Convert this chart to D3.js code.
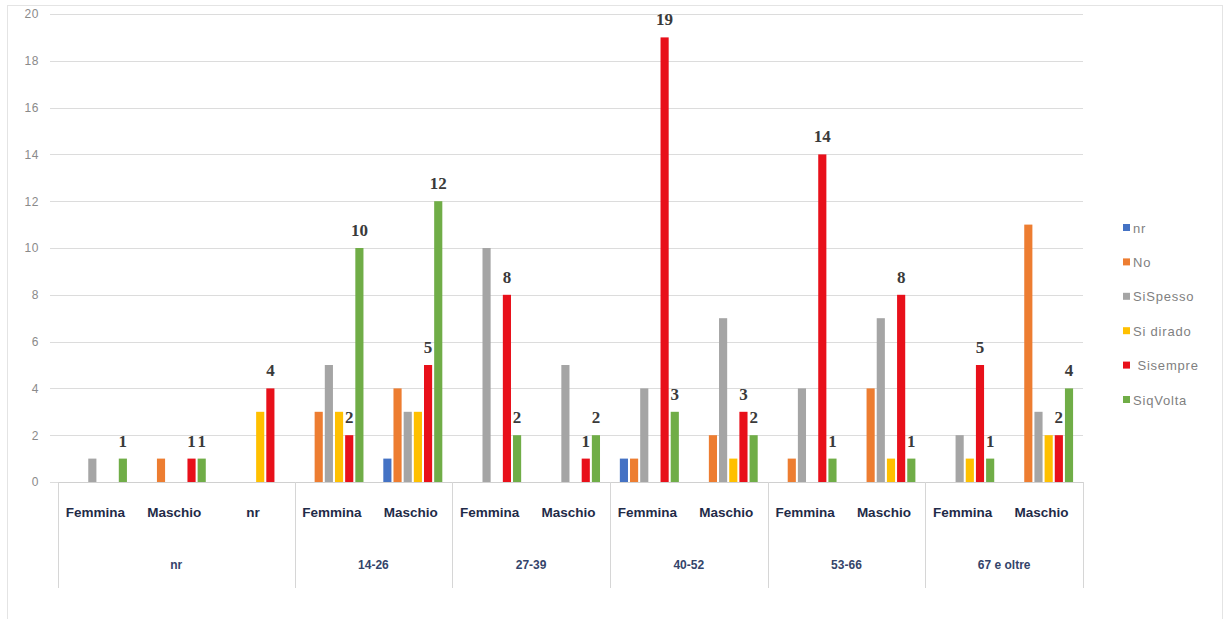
<!DOCTYPE html>
<html>
<head>
<meta charset="utf-8">
<script src="https://cdn.jsdelivr.net/npm/d3@7"></script>
<style>
  html, body { margin: 0; padding: 0; background: #fff; }
  svg { display: block; }
  text { white-space: pre; }
</style>
</head>
<body>
<svg id="chart" width="1229" height="619"></svg>
<script>
// Age groups and how many gender columns each one holds
const ageGroups = ["nr", "14-26", "27-39", "40-52", "53-66", "67 e oltre"];
const groupSpans = [3, 2, 2, 2, 2, 2];
// Leaf categories (gender) in display order
const genders = ["Femmina", "Maschio", "nr",
                 "Femmina", "Maschio",
                 "Femmina", "Maschio",
                 "Femmina", "Maschio",
                 "Femmina", "Maschio",
                 "Femmina", "Maschio"];

// Series names as shown in the legend
const seriesNames = ["nr", "No", "SiSpesso", "Si dirado", " Sisempre", "SiqVolta"];
const seriesColors = ["#4472c4", "#ed7d31", "#a5a5a5", "#ffc000", "#e8101a", "#70ad47"];

// Counts per series, one per leaf category
const valNr       = [0, 0, 0, 0, 1, 0, 0, 1, 0, 0, 0, 0, 0];
const valNo       = [0, 1, 0, 3, 4, 0, 0, 1, 2, 1, 4, 0, 11];
const valSiSpesso = [1, 0, 0, 5, 3, 10, 5, 4, 7, 4, 7, 2, 3];
const valSiDirado = [0, 0, 3, 3, 3, 0, 0, 0, 1, 0, 1, 1, 2];
const valSisempre = [0, 1, 4, 2, 5, 8, 1, 19, 3, 14, 8, 5, 2];
const valSiqVolta = [1, 1, 0, 10, 12, 2, 2, 3, 2, 1, 1, 1, 4];
const seriesValues = [valNr, valNo, valSiSpesso, valSiDirado, valSisempre, valSiqVolta];
// Series that carry value labels
const labelledSeries = [4, 5];

const yTicks = [0, 2, 4, 6, 8, 10, 12, 14, 16, 18, 20];

const svg = d3.select("#chart");

// outer chart frame
svg.append("rect")
  .attr("x", 7.5).attr("y", 5.5).attr("width", 1215).attr("height", 620)
  .attr("fill", "none").attr("stroke", "#e4e4e4").attr("stroke-width", 1);

const plotLeft = 58, plotRight = 1083, plotTop = 14, plotBottom = 482;

const leafIdx = d3.range(genders.length);
const x0 = d3.scaleBand().domain(leafIdx).range([plotLeft, plotRight])
  .paddingInner(0.2).paddingOuter(0.1);
const x1 = d3.scaleBand().domain(d3.range(seriesNames.length))
  .range([0, x0.bandwidth()]).padding(0.2);
const y = d3.scaleLinear().domain([0, 20]).range([plotBottom, plotTop]);

// horizontal gridlines
svg.append("g").selectAll("line").data(yTicks).join("line")
  .attr("x1", 50).attr("x2", plotRight)
  .attr("y1", d => Math.round(y(d)) + 0.5).attr("y2", d => Math.round(y(d)) + 0.5)
  .attr("stroke", "#dcdcdc").attr("stroke-width", 1);

// y axis tick labels
const yAxis = d3.axisLeft(y).tickValues(yTicks).tickSize(0).tickPadding(0);
const gy = svg.append("g").attr("transform", "translate(39,0)").call(yAxis);
gy.select(".domain").remove();
gy.selectAll("text")
  .attr("fill", "#8a8a8a")
  .attr("font-family", "Liberation Sans, Arial, sans-serif")
  .attr("font-size", 12)
  .attr("letter-spacing", 0.6);

// bars
const barData = [];
seriesValues.forEach((vals, s) => {
  vals.forEach((v, i) => { if (v > 0) barData.push({ s, i, v }); });
});
svg.append("g").selectAll("rect").data(barData).join("rect")
  .attr("x", d => x0(d.i) + x1(d.s))
  .attr("width", x1.bandwidth())
  .attr("y", d => y(d.v))
  .attr("height", d => y(0) - y(d.v))
  .attr("fill", d => seriesColors[d.s]);

// value labels
const labelData = barData.filter(d => labelledSeries.includes(d.s));
svg.append("g").selectAll("text").data(labelData).join("text")
  .attr("x", d => x0(d.i) + x1(d.s) + x1.bandwidth() / 2)
  .attr("y", d => y(d.v) - 12)
  .attr("text-anchor", "middle")
  .attr("font-family", "Liberation Serif, Times New Roman, serif")
  .attr("font-weight", "bold")
  .attr("font-size", 17)
  .attr("fill", "#3a3a3a")
  .text(d => d.v);

// category axis baseline
svg.append("line")
  .attr("x1", plotLeft).attr("x2", plotRight)
  .attr("y1", plotBottom + 0.5).attr("y2", plotBottom + 0.5)
  .attr("stroke", "#d0d0d0");

// gender labels (first level)
const step = x0.step();
svg.append("g").selectAll("text").data(leafIdx).join("text")
  .attr("x", i => x0(i) + x0.bandwidth() / 2 - 2)
  .attr("y", 517)
  .attr("text-anchor", "middle")
  .attr("font-family", "Liberation Sans, Arial, sans-serif")
  .attr("font-weight", "bold")
  .attr("font-size", 13.5)
  .attr("fill", "#1f2b48")
  .text(i => genders[i]);

// age group labels and dividers (second level)
const starts = [];
groupSpans.reduce((acc, n) => { starts.push(acc); return acc + n; }, 0);
const groupEdge = k => plotLeft + k * step;
const gGroups = svg.append("g");
const edges = starts.concat([genders.length]);
gGroups.selectAll("line").data(edges).join("line")
  .attr("x1", k => Math.round(groupEdge(k)) + 0.5)
  .attr("x2", k => Math.round(groupEdge(k)) + 0.5)
  .attr("y1", plotBottom).attr("y2", 588)
  .attr("stroke", "#d6d6d6");
gGroups.selectAll("text").data(ageGroups).join("text")
  .attr("x", (g, j) => (groupEdge(starts[j]) + groupEdge(starts[j] + groupSpans[j])) / 2)
  .attr("y", 569)
  .attr("text-anchor", "middle")
  .attr("font-family", "Liberation Sans, Arial, sans-serif")
  .attr("font-weight", "bold")
  .attr("font-size", 12)
  .attr("fill", "#34446a")
  .text(g => g);

// legend
const legend = svg.append("g").attr("transform", "translate(1123,0)");
const legendY = d3.scalePoint().domain(d3.range(seriesNames.length)).range([228, 400]);
const item = legend.selectAll("g").data(seriesNames).join("g")
  .attr("transform", (d, i) => `translate(0,${legendY(i)})`);
item.append("rect")
  .attr("x", 0).attr("y", -4).attr("width", 7).attr("height", 7)
  .attr("fill", (d, i) => seriesColors[i]);
item.append("text")
  .attr("x", 10).attr("y", 4.5)
  .attr("font-family", "Liberation Sans, Arial, sans-serif")
  .attr("font-size", 13)
  .attr("letter-spacing", 0.8)
  .attr("fill", "#7f7f7f")
  .text(d => d);
</script>
</body>
</html>
